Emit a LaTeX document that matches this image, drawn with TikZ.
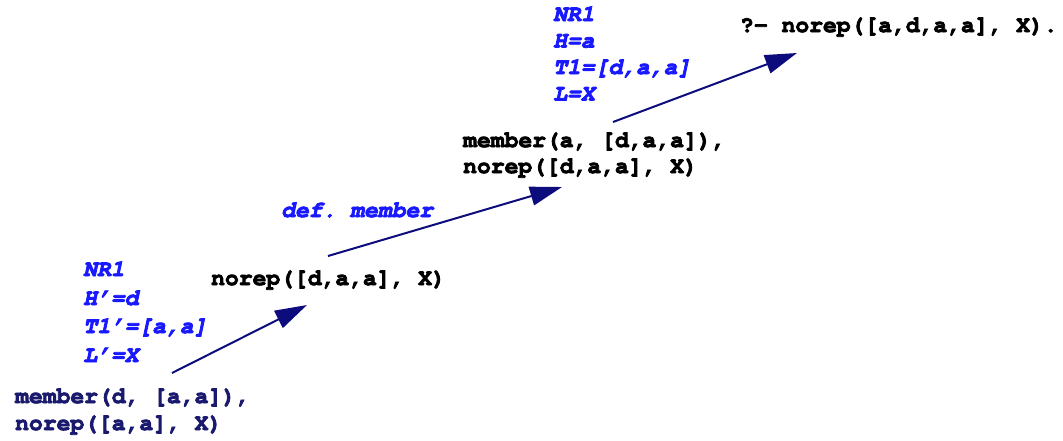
\documentclass[tikz,border=0pt]{standalone}
\usepackage[T1]{fontenc}
\usepackage{courier}
\usetikzlibrary{arrows.meta}
\definecolor{arrowblue}{RGB}{12,12,125}
\definecolor{lblblue}{RGB}{25,25,255}
\definecolor{goalnavy}{RGB}{25,25,110}
\newcommand\heavytext[1]{\special{pdf:literal direct 2 Tr 0.8 w}#1\special{pdf:literal direct 0 Tr}}
\frenchspacing
\begin{document}
\begin{tikzpicture}[x=1pt,y=-1pt,
  goal/.style={font=\ttfamily\bfseries\frenchspacing\fontsize{23}{26}\selectfont, inner sep=0pt, anchor=base west, text=black},
  lbl/.style={font=\ttfamily\bfseries\slshape\frenchspacing\fontsize{23}{26}\selectfont, inner sep=0pt, anchor=base west, text=lblblue},
  arr/.style={draw=arrowblue, fill=arrowblue, line width=2pt, -{Triangle[length=32pt,width=19pt]}}]
\useasboundingbox (0,0) rectangle (1063,440);
% top goal
\node[goal] (g0) at (740,32) {\heavytext{?- norep([a,d,a,a], X).}};
% upper labels
\node[lbl] (u1) at (553,21) {\heavytext{NR1}};
\node[lbl] (u2) at (553,47.5) {\heavytext{H=a}};
\node[lbl] (u3) at (553,74) {\heavytext{T1=[d,a,a]}};
\node[lbl] (u4) at (553,100.5) {\heavytext{L=X}};
% middle goal
\node[goal] (m1) at (463,147) {\heavytext{member(a, [d,a,a]),}};
\node[goal] (m2) at (463,173) {\heavytext{norep([d,a,a], X)}};
% def member
\node[lbl] (dm) at (281,217) {\heavytext{def. member}};
% lower goal
\node[goal] (n1) at (211,285) {\heavytext{norep([d,a,a], X)}};
% lower labels
\node[lbl] (l1) at (83,276) {\heavytext{NR1}};
\node[lbl] (l2) at (83,305) {\heavytext{H'=d}};
\node[lbl] (l3) at (83,333) {\heavytext{T1'=[a,a]}};
\node[lbl] (l4) at (83,362) {\heavytext{L'=X}};
% bottom goal
\node[goal, text=goalnavy] (b1) at (15,403) {\heavytext{member(d, [a,a]),}};
\node[goal, text=goalnavy] (b2) at (15,430) {\heavytext{norep([a,a], X)}};
% connector endpoints
\coordinate (a1s) at (172,373);
\coordinate (a1e) at (307,305);
\coordinate (a2s) at (328,256);
\coordinate (a2e) at (562,187);
\coordinate (a3s) at (613,122);
\coordinate (a3e) at (797,53);
\draw[arr] (a1s) -- (a1e);
\draw[arr] (a2s) -- (a2e);
\draw[arr] (a3s) -- (a3e);
\end{tikzpicture}
\end{document}
